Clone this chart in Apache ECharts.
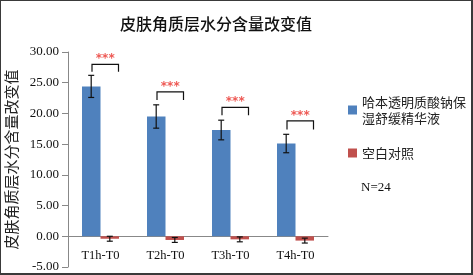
<!DOCTYPE html>
<html>
<head>
<meta charset="utf-8">
<script src="https://cdn.jsdelivr.net/npm/echarts@6/dist/echarts.min.js"></script>
<style>
  html, body { margin: 0; padding: 0; background: #fff; }
  #wrap { position: relative; width: 473px; height: 275px; }
  #main { width: 473px; height: 275px; }
  #frame { position: absolute; left: 0; top: 0; width: 473px; height: 275px; box-sizing: border-box;
    border-style: solid; border-color: #3a3a3a; border-width: 1px 2px 2px 1px; pointer-events: none; }
</style>
</head>
<body>
<div id="wrap">
  <div id="main"></div>
  <div id="frame"></div>
</div>
<script>
// 数据
const categories = ['T1h-T0', 'T2h-T0', 'T3h-T0', 'T4h-T0'];
const serumName = '哈本透明质酸钠保\n湿舒缓精华液';
const blankName = '空白对照';
const serumVals = [24.4, 19.5, 17.3, 15.1];
const serumErr = [1.8, 1.9, 1.6, 1.5];
const blankVals = [-0.4, -0.6, -0.5, -0.7];
const blankErr = [0.4, 0.4, 0.4, 0.4];
const bracketTop = [28.0, 23.5, 21.0, 18.8];
const bracketLeg = [26.8, 22.2, 19.7, 17.4];
const sigMarks = ['***', '***', '***', '***'];
const yMin = -5, yMax = 30;

const serif = 'Liberation Serif';
const cjk = 'Noto Sans CJK SC';

const gridTop = 52, gridBottom = 8;
// x 轴放在 0 刻度处 (按绘图区高度换算偏移)
const plotH = 275 - gridTop - gridBottom;
const zeroOffset = -plotH * (0 - yMin) / (yMax - yMin);

const chart = echarts.init(document.getElementById('main'));

// 误差线 (side 0 = 蓝柱, 1 = 红柱)
function errItem(side) {
  return function (params, api) {
    const i = api.value(0);
    const v = api.value(1);
    const e = api.value(2);
    const x = api.coord([i, 0])[0] + (side === 0 ? -1 : 1) * 9.3;
    const yh = api.coord([i, v + e])[1];
    const yl = api.coord([i, v - e])[1];
    const cap = 3;
    const st = { stroke: '#111', lineWidth: 1.2 };
    return {
      type: 'group',
      children: [
        { type: 'line', shape: { x1: x, y1: yh, x2: x, y2: yl }, style: st },
        { type: 'line', shape: { x1: x - cap, y1: yh, x2: x + cap, y2: yh }, style: st },
        { type: 'line', shape: { x1: x - cap, y1: yl, x2: x + cap, y2: yl }, style: st }
      ]
    };
  };
}

function bracketItem(params, api) {
  const i = api.value(0);
  const cx = api.coord([i, 0])[0];
  const yt = api.coord([i, api.value(1)])[1];
  const yl = api.coord([i, api.value(2)])[1];
  const x1 = cx - 8.5, x2 = cx + 18;
  const st = { stroke: '#111', lineWidth: 1.2, fill: null };
  return {
    type: 'group',
    children: [
      { type: 'polyline', shape: { points: [[x1, yl], [x1, yt], [x2, yt], [x2, yl]] }, style: st },
      { type: 'text', style: { text: sigMarks[i], x: (x1 + x2) / 2, y: yt + 1,
        align: 'center', verticalAlign: 'bottom', fill: '#ee5a55',
        font: 'bold 12px DejaVu Sans' } }
    ]
  };
}

chart.setOption({
  animation: false,
  title: {
    text: '皮肤角质层水分含量改变值',
    left: 211, top: 11, textAlign: 'center',
    textStyle: { fontFamily: cjk, fontSize: 16, fontWeight: 500, color: '#111' }
  },
  legend: {
    orient: 'vertical',
    left: 343, top: 81,
    itemWidth: 9, itemHeight: 9, itemGap: 11,
    icon: 'rect',
    data: [
      { name: serumName, textStyle: { padding: [16, 0, 0, 0] } },
      { name: blankName }
    ],
    textStyle: { fontFamily: cjk, fontSize: 13, color: '#222', lineHeight: 16 }
  },
  graphic: [{
    type: 'text', left: 361, top: 181,
    style: { text: 'N=24', font: '13px Liberation Serif', fill: '#111' }
  }],
  grid: { left: 68, right: 145, top: gridTop, bottom: gridBottom, outerBoundsMode: 'none' },
  xAxis: {
    type: 'category',
    data: categories,
    position: 'bottom',
    offset: zeroOffset,
    axisLine: { onZero: false, lineStyle: { color: '#888' } },
    axisTick: { length: 5, lineStyle: { color: '#888' } },
    axisLabel: { fontFamily: serif, fontSize: 12.5, color: '#111', margin: 13 }
  },
  yAxis: {
    type: 'value',
    min: yMin, max: yMax, interval: 5,
    name: '皮肤角质层水分含量改变值',
    nameLocation: 'middle',
    nameRotate: 90,
    nameGap: 47,
    nameTextStyle: { fontFamily: cjk, fontSize: 15, color: '#222' },
    axisLine: { show: true, lineStyle: { color: '#888' } },
    axisTick: { show: true, length: 6, lineStyle: { color: '#888' } },
    splitLine: { show: false },
    axisLabel: {
      fontFamily: serif, fontSize: 13, color: '#111', margin: 9,
      formatter: v => v.toFixed(2)
    }
  },
  series: [
    {
      name: serumName, type: 'bar', data: serumVals,
      barWidth: 18.5, barGap: '0%',
      itemStyle: { color: '#4f81bd' }
    },
    {
      name: blankName, type: 'bar', data: blankVals,
      barWidth: 18.5,
      itemStyle: { color: '#c0504d' }
    },
    {
      type: 'custom', renderItem: errItem(0), z: 5,
      data: serumVals.map((v, i) => [i, v, serumErr[i]])
    },
    {
      type: 'custom', renderItem: errItem(1), z: 5,
      data: blankVals.map((v, i) => [i, v, blankErr[i]])
    },
    {
      type: 'custom', renderItem: bracketItem, z: 5,
      data: bracketTop.map((v, i) => [i, v, bracketLeg[i]])
    }
  ]
});
</script>
</body>
</html>
